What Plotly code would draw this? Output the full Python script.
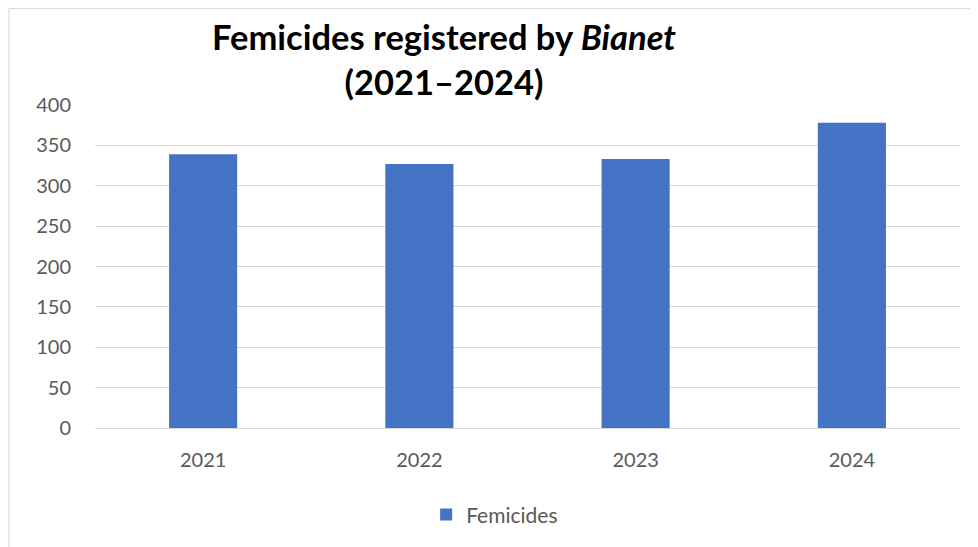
import plotly.graph_objects as go

years = ["2021", "2022", "2023", "2024"]
femicides = [339, 327, 333, 378]
series_name = "Femicides"
y_ticks = [0, 50, 100, 150, 200, 250, 300, 350, 400]

fig = go.Figure()
fig.add_trace(go.Bar(
    x=years, y=femicides, name=series_name,
    marker=dict(color="#4472C4", line=dict(width=0)),
    showlegend=True,
))

fig.update_layout(
    width=970, height=539,
    paper_bgcolor="white", plot_bgcolor="white",
    margin=dict(l=87, r=18, t=97, b=119),
    bargap=0.685,
    font=dict(family="Lato, Open Sans, sans-serif", color="#595959"),
    title=dict(
        text="Femicides registered by <i>Bianet</i><br>(2021–2024)",
        x=436 / 970, xanchor="center", xref="container",
        y=1 - 42 / 539, yanchor="middle",
        font=dict(family="Lato, sans-serif", size=34.5, color="black", weight="bold"),
    ),
    xaxis=dict(
        showgrid=False, showline=True, linecolor="#d9d9d9", linewidth=1,
        ticks="outside", ticklen=14, tickcolor="rgba(0,0,0,0)",
        tickfont=dict(size=20, color="#595959"),
    ),
    yaxis=dict(
        range=[0, 400], tickvals=y_ticks,
        showgrid=True, gridcolor="#d9d9d9", gridwidth=1,
        zeroline=False, showline=False,
        ticks="outside", ticklen=19, tickcolor="rgba(0,0,0,0)",
        tickfont=dict(size=20, color="#595959"),
    ),
    legend=dict(
        orientation="h", x=0.462, xanchor="center", y=-0.269, yanchor="middle",
        font=dict(size=21, color="#595959"),
        itemwidth=30,
    ),
    shapes=[dict(
        type="rect", xref="paper", yref="paper",
        x0=-0.0995, x1=1.2, y0=-0.6, y1=1.2985,
        line=dict(color="#d9d9d9", width=1), fillcolor="rgba(0,0,0,0)",
        layer="below",
    )],
)

fig.write_html("out.html")
